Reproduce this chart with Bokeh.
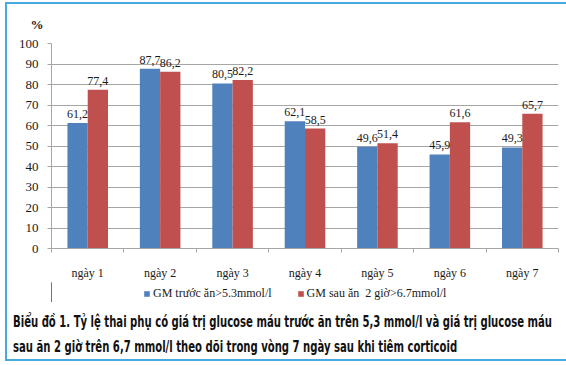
from bokeh.plotting import figure
from bokeh.layouts import column
from bokeh.models import (Range1d, FixedTicker, Legend, LegendItem, Title, Div,
                          ColumnDataSource)
from bokeh.transform import dodge
from bokeh.embed import file_html
from bokeh.resources import INLINE

categories = ["ngày 1", "ngày 2", "ngày 3", "ngày 4", "ngày 5", "ngày 6", "ngày 7"]
before_meal = [61.2, 87.7, 80.5, 62.1, 49.6, 45.9, 49.3]
after_meal = [77.4, 86.2, 82.2, 58.5, 51.4, 61.6, 65.7]
series_names = ["GM trước ăn>5.3mmol/l", "GM sau ăn  2 giờ>6.7mmol/l"]
y_ticks = [0, 10, 20, 30, 40, 50, 60, 70, 80, 90, 100]
y_unit = "%"
caption_lines = [
    "Biểu đồ 1. Tỷ lệ thai phụ có giá trị glucose máu trước ăn trên 5,3 mmol/l và giá trị glucose máu",
    "sau ăn 2 giờ trên 6,7 mmol/l theo dõi trong vòng 7 ngày sau khi tiêm corticoid",
]

BLUE = "#4f81bd"
RED = "#c0504d"
GRID = "#a6a6a6"
BORDER = "#4aa8e0"
SERIF = "Liberation Serif"
CAPTION_FONT = "'Liberation Sans Narrow', 'DejaVu Sans Condensed', sans-serif"
TXT = "#1a1a1a"

xs = list(range(1, len(categories) + 1))
src = ColumnDataSource(dict(
    x=xs,
    before=before_meal,
    after=after_meal,
    before_lbl=[f"{v:.1f}".replace(".", ",") for v in before_meal],
    after_lbl=[f"{v:.1f}".replace(".", ",") for v in after_meal],
))

# ---------------- chart ----------------
p = figure(width=566, height=282, output_backend="svg", toolbar_location=None,
           x_range=Range1d(0.5, len(categories) + 0.5), y_range=Range1d(0, 100),
           min_border_left=51, min_border_right=8, min_border_top=43,
           min_border_bottom=30)
p.outline_line_color = None
p.background_fill_color = "white"
p.border_fill_alpha = 0

bw = 0.28
off = 0.14
r1 = p.vbar(x=dodge("x", -off, range=p.x_range), top="before", width=bw, bottom=0,
            source=src, fill_color=BLUE, line_color=None)
r2 = p.vbar(x=dodge("x", off, range=p.x_range), top="after", width=bw, bottom=0,
            source=src, fill_color=RED, line_color=None)

for col, lbl, o in (("before", "before_lbl", -off), ("after", "after_lbl", off)):
    p.text(x=dodge("x", o, range=p.x_range), y=col, text=lbl, source=src,
           text_font=SERIF, text_font_size="12px", text_align="center",
           text_baseline="bottom", y_offset=-5, text_color=TXT)

p.xaxis.ticker = FixedTicker(ticks=xs, minor_ticks=[x - 0.5 for x in xs] + [xs[-1] + 0.5])
p.xaxis.major_label_overrides = {x: c for x, c in zip(xs, categories)}
p.xaxis.major_tick_line_color = None
p.xaxis.major_tick_out = 0
p.xaxis.major_tick_in = 0
p.xaxis.minor_tick_out = 4
p.xaxis.minor_tick_in = 0
p.xaxis.minor_tick_line_color = GRID
p.xaxis.axis_line_color = GRID
p.xaxis.major_label_standoff = 13
p.xaxis.major_label_text_font = SERIF
p.xaxis.major_label_text_font_size = "12px"
p.xaxis.major_label_text_color = TXT

p.yaxis.ticker = FixedTicker(ticks=y_ticks)
p.yaxis.minor_tick_line_color = None
p.yaxis.major_tick_out = 4
p.yaxis.major_tick_in = 0
p.yaxis.major_tick_line_color = GRID
p.yaxis.axis_line_color = GRID
p.yaxis.major_label_standoff = 9
p.yaxis.major_label_text_font = SERIF
p.yaxis.major_label_text_font_size = "13px"
p.yaxis.major_label_text_color = TXT

p.xgrid.grid_line_color = None
p.ygrid.grid_line_color = GRID
p.ygrid.ticker = FixedTicker(ticks=y_ticks[1:])

p.add_layout(Title(text=y_unit, align="left", offset=-21, standoff=23,
                   text_font=SERIF, text_font_size="13px", text_font_style="bold",
                   text_color=TXT), "above")

# ---------------- legend strip ----------------
q = figure(width=566, height=20, output_backend="svg", toolbar_location=None,
           x_range=Range1d(100, 101), y_range=Range1d(0, 1),
           min_border_left=0, min_border_right=0, min_border_top=0,
           min_border_bottom=0)
q.axis.visible = False
q.grid.grid_line_color = None
q.outline_line_color = None
q.background_fill_alpha = 0
q.border_fill_alpha = 0

k1 = q.vbar(x="x", top="before", width=bw, source=src, fill_color=BLUE, line_color=None)
k2 = q.vbar(x="x", top="after", width=bw, source=src, fill_color=RED, line_color=None)

legend = Legend(items=[LegendItem(label=series_names[0], renderers=[k1]),
                       LegendItem(label=series_names[1], renderers=[k2])],
                location=(92, 1), orientation="horizontal",
                glyph_width=7, glyph_height=7, label_standoff=3, spacing=25,
                padding=0, margin=0, border_line_color=None,
                background_fill_alpha=0,
                label_text_font=SERIF, label_text_font_size="12px",
                label_height=14, label_text_color=TXT)
q.add_layout(legend, "center")

# ---------------- caption ----------------
line_style = ("white-space:nowrap; transform:scaleX(0.70); transform-origin:0 0; "
              "height:25px; line-height:25px;")
caption_html = "".join(f"<div style='{line_style}'>{t}</div>" for t in caption_lines)
cap = Div(text=caption_html, width=566, height=63, margin=(0, 0, 0, 0),
          styles={"font-family": CAPTION_FONT, "font-weight": "bold",
                  "font-size": "16px", "color": "#111111",
                  "padding-left": "13px", "padding-top": "7px",
                  "box-sizing": "border-box", "overflow": "hidden"})

bg = (f"linear-gradient({BORDER},{BORDER}) 6px 2px / 560px 2px no-repeat, "
      f"linear-gradient({BORDER},{BORDER}) 5px 2px / 2px 359px no-repeat, "
      f"linear-gradient({BORDER},{BORDER}) 5px 359px / 561px 2px no-repeat, white")

layout = column(p, q, cap, spacing=0, styles={"background": bg})

open("out.html", "w").write(file_html(layout, INLINE))
